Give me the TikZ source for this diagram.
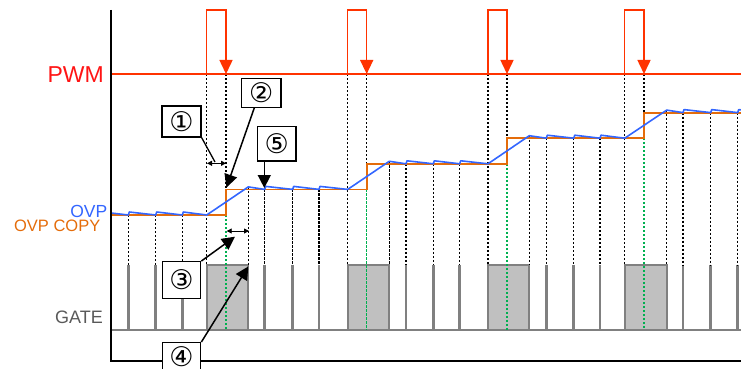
\documentclass[tikz,border=0pt]{standalone}
\usepackage{fontspec}
\setmainfont{Liberation Sans}
\newfontfamily\circfont{DejaVu Sans}
\usetikzlibrary{arrows.meta}
\definecolor{pwmred}{RGB}{255,51,0}
\definecolor{pwmtext}{RGB}{255,20,20}
\definecolor{ovpblue}{RGB}{51,102,255}
\definecolor{copyorange}{RGB}{228,108,10}
\definecolor{gategreen}{RGB}{0,176,80}
\definecolor{gategray}{RGB}{128,128,128}
\definecolor{gatefill}{RGB}{192,192,192}
\definecolor{labelgray}{RGB}{89,89,89}
\tikzset{
  dots/.style={black, line width=1.5pt, dash pattern=on 2.2pt off 1.8pt},
  greendots/.style={gategreen, line width=1.5pt, dash pattern=on 2.2pt off 1.8pt},
  axisline/.style={black, line width=1.5pt},
  pwmline/.style={pwmred, line width=1.5pt},
  ovpline/.style={ovpblue, line width=1.6pt, line join=round},
  copyline/.style={copyorange, line width=1.8pt},
  gatebar/.style={gategray, line width=2.8pt},
  gatebase/.style={gategray, line width=1.6pt},
  gatebox/.style={draw=gategray, fill=gatefill, line width=2pt},
  cbox/.style={draw=black, fill=white, line width=1.3pt, inner sep=0pt, font=\circfont\fontsize{27}{29}\selectfont},
  callout/.style={black, line width=1.5pt, -{Triangle[length=13pt,width=13pt]}},
  plainlink/.style={black, line width=1.3pt},
  span/.style={black, line width=0.9pt, {Triangle[length=5pt,width=5pt]}-{Triangle[length=5pt,width=5pt]}},
  lbl/.style={anchor=base east, inner sep=0pt}
}
\begin{document}
\begin{tikzpicture}[x=1pt,y=-1pt]
\useasboundingbox (0,0) rectangle (741,369);
\clip (0,0) rectangle (741,369);

% gate baseline
\draw[gatebase] (111,330) -- (741,330);

% gate boxes
\foreach \r/\e in {206.7/248.3, 347.7/389.3, 488/529.3, 624.7/666.7} {
  \draw[gatebox] (\r,265) rectangle (\e,330);
}
% narrow gate pulses with their dotted guides
\foreach \x/\l in {128.3/215, 155.7/215, 182.3/215, 264.7/189.4, 292.7/189.4, 319/189.4, 406/163.8, 433.3/163.8, 459.7/163.8, 546.3/138.2, 573.7/138.2, 600/138.2, 683/112.6, 710.7/112.6, 737.7/112.6} {
  \draw[gatebar] (\x,330) -- (\x,265);
  \draw[dots] (\x,\l) -- (\x,265);
}
% dotted guides per PWM period
\foreach \r/\f/\e/\lo/\hi in {206.7/226/248.3/215/189.4, 347.7/366.7/389.3/189.4/163.8, 488/507/529.3/163.8/138.2, 624.7/644/666.7/138.2/112.6} {
  \draw[dots] (\r,74) -- (\r,265);
  \draw[dots] (\f,74) -- (\f,\hi);
  \draw[greendots] (\f,\lo) -- (\f,330);
  \draw[dots] (\e,\hi-2.5) -- (\e,265);
}

% OVP COPY (orange step)
\draw[copyline] (111,215) -- (226,215) -- (226,189.4) -- (366.7,189.4) -- (366.7,163.8) -- (507,163.8) -- (507,138.2) -- (644,138.2) -- (644,112.6) -- (741,112.6);

% OVP (blue sawtooth)
\draw[ovpline] (111,213) -- (128.3,215) -- (129.3,212) -- (155.7,215) -- (156.7,212) -- (182.3,215) -- (183.3,212) -- (206.7,215)
  -- (248.3,186.9) -- (264.7,189.4) -- (265.7,186.4) -- (292.7,189.4) -- (293.7,186.4) -- (319,189.4) -- (320,186.4) -- (347.7,189.4)
  -- (389.3,161.3) -- (406,163.8) -- (407,160.8) -- (433.3,163.8) -- (434.3,160.8) -- (459.7,163.8) -- (460.7,160.8) -- (488,163.8)
  -- (529.3,135.7) -- (546.3,138.2) -- (547.3,135.2) -- (573.7,138.2) -- (574.7,135.2) -- (600,138.2) -- (601,135.2) -- (624.7,138.2)
  -- (666.7,110.1) -- (683,112.6) -- (684,109.6) -- (710.7,112.6) -- (711.7,109.6) -- (737.7,112.6) -- (738.7,109.6) -- (741,109.9);

% PWM
\draw[pwmline] (111,74) -- (741,74);
\foreach \r/\f in {206.7/226, 347.7/366.7, 488/507, 624.7/644} {
  \draw[pwmline, -{Triangle[length=14pt,width=13pt]}] (\r,74) -- (\r,10) -- (\f,10) -- (\f,74);
}

% axes
\draw[axisline] (111,10) -- (111,361) -- (741,361);

% labels
\node[lbl, text=pwmtext, font=\fontsize{23}{26}\selectfont] (pwmlbl) at (104,82.5) {PWM};
\node[lbl, text=ovpblue, font=\fontsize{17.5}{20}\selectfont] (ovplbl) at (107.5,217) {OVP};
\node[lbl, text=copyorange, font=\fontsize{16.5}{19}\selectfont] (copylbl) at (100.5,231.7) {OVP COPY};
\node[lbl, text=labelgray, font=\fontsize{18}{20}\selectfont] (gatelbl) at (103,323.3) {GATE};

% spans
\coordinate (s1a) at (207,163.3);
\coordinate (s1b) at (226,163.3);
\coordinate (s1m) at (215,162);
\coordinate (s3a) at (226.7,231);
\coordinate (s3b) at (249,231);
\draw[span] (s1a) -- (s1b);
\draw[span] (s3a) -- (s3b);

% callouts
\node[cbox, minimum width=39pt, minimum height=31pt] (c1) at (181.5,121.5) {①};
\node[cbox, minimum width=39.3pt, minimum height=29pt] (c2) at (261.3,92.7) {②};
\node[cbox, minimum width=38.3pt, minimum height=34.5pt] (c5) at (276.8,143.7) {⑤};
\node[cbox, minimum width=38.4pt, minimum height=36.6pt] (c3) at (181.5,280) {③};
\node[cbox, minimum width=38.4pt, minimum height=28pt] (c4) at (181.5,356.7) {④};

\coordinate (t2) at (226.5,187.5);
\coordinate (t5) at (264.3,188);
\coordinate (t3) at (235,236.7);
\coordinate (t4) at (248.3,266.5);
\draw[plainlink] (c1.south east) -- (s1m);
\draw[callout] ([xshift=-7pt]c2.south) -- (t2);
\draw[callout] ([xshift=-12.5pt]c5.south) -- (t5);
\draw[callout] (c3.north east) -- (t3);
\draw[callout] (c4.north east) -- (t4);
\end{tikzpicture}
\end{document}
